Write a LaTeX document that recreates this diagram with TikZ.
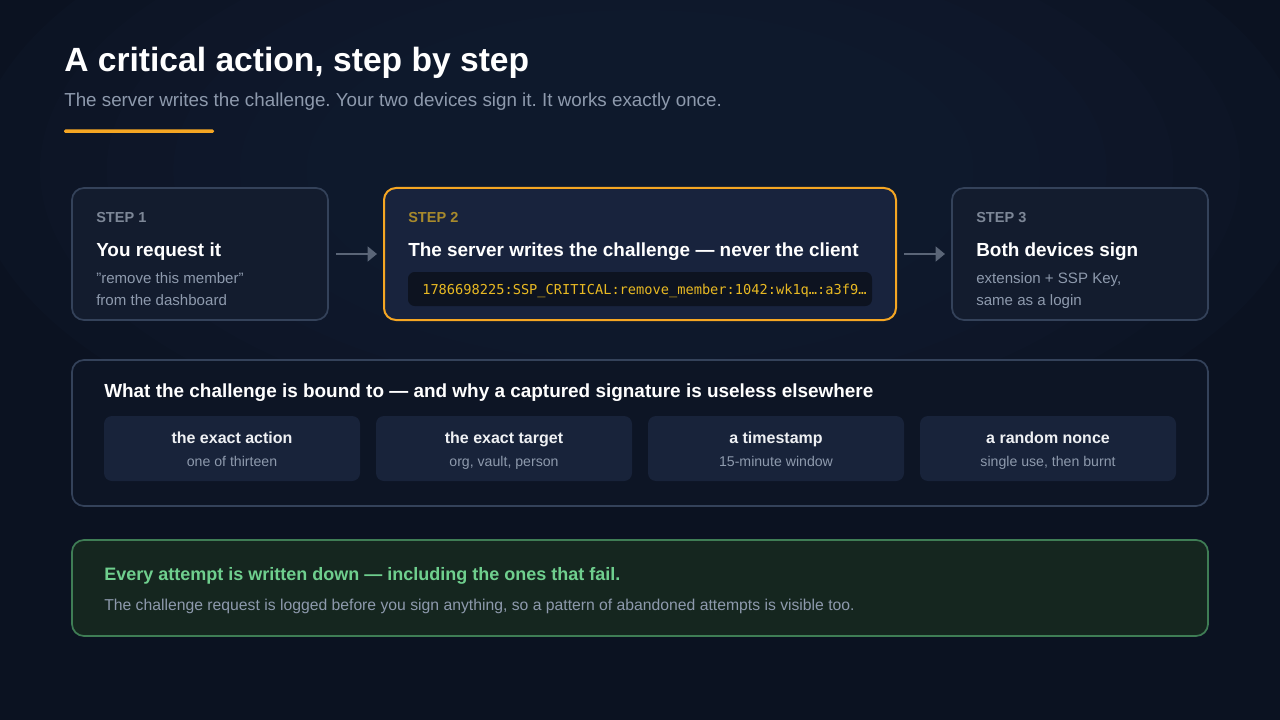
\documentclass[tikz,border=0pt]{standalone}
\usepackage{fontspec}
\setmainfont{Liberation Sans}
\newfontfamily\codefont{DejaVu Sans Mono}
\usetikzlibrary{arrows.meta}
\frenchspacing
\definecolor{bg}{HTML}{0B1221}
\definecolor{bgtop}{HTML}{16233A}
\definecolor{card}{HTML}{131C2E}
\definecolor{cardb}{HTML}{34425A}
\definecolor{card2}{HTML}{18233D}
\definecolor{amber}{HTML}{F5A623}
\definecolor{steplbl}{HTML}{7D8797}
\definecolor{steplbl2}{HTML}{A88A2C}
\definecolor{muted}{HTML}{8E9AAD}
\definecolor{codebg}{HTML}{0D1320}
\definecolor{codefg}{HTML}{E8B923}
\definecolor{chip}{HTML}{18233A}
\definecolor{gbg}{HTML}{15261F}
\definecolor{gbd}{HTML}{3F7D55}
\definecolor{gtx}{HTML}{6FCF8E}
\definecolor{arr}{HTML}{5A6577}
\begin{document}
\begin{tikzpicture}[x=0.75pt,y=-0.75pt,
  box/.style={rounded corners=9pt,line width=1.3pt},
  steplbl/.style={anchor=base west,font=\bfseries\fontsize{10.9}{12}\selectfont,text=steplbl,inner sep=0},
  steptitle/.style={anchor=base west,font=\bfseries\fontsize{14.2}{16}\selectfont,text=white,inner sep=0},
  stepbody/.style={anchor=base west,font=\fontsize{11.3}{13}\selectfont,text=muted,inner sep=0},
  chipbox/.style={rounded corners=6pt,fill=chip},
  chiptitle/.style={anchor=base,font=\bfseries\fontsize{12}{13}\selectfont,text=white!85!muted,inner sep=0},
  chipsub/.style={anchor=base,font=\fontsize{10.6}{12}\selectfont,text=muted,inner sep=0},
  flow/.style={draw=arr,line width=2.2pt,-{Triangle[length=7pt,width=11pt]}}]
\useasboundingbox (0,0) rectangle (1280,720);
\fill[bg] (0,0) rectangle (1280,720);
\begin{scope}
\clip (0,0) rectangle (1280,720);
\foreach \r in {1.0,0.9,0.8,0.7,0.6,0.5}{
  \fill[bgtop,opacity=0.12] (640,170) ellipse [x radius=\r*500pt,y radius=\r*240pt];
}
\end{scope}
% header
\node[anchor=base west,inner sep=0,font=\bfseries\fontsize{25.2}{28}\selectfont,text=white] (title) at (64,72) {A critical action, step by step};
\node[anchor=base west,inner sep=0,font=\fontsize{14.1}{15}\selectfont,text=muted] (sub) at (64,107) {The server writes the challenge. Your two devices sign it. It works exactly once.};
\fill[amber,rounded corners=1pt] (64,129.5) rectangle (214,133);
% step cards
\draw[box,fill=card,draw=cardb] (72,188) rectangle (328,320);
\draw[box,fill=card2,draw=amber,line width=1.5pt] (384,188) rectangle (896,320);
\draw[box,fill=card,draw=cardb] (952,188) rectangle (1208,320);
\coordinate (a1) at (336,254); \coordinate (a1e) at (377,254);
\coordinate (a2) at (904,254); \coordinate (a2e) at (945,254);
\draw[flow] (a1) -- (a1e);
\draw[flow] (a2) -- (a2e);

\node[steplbl] (l1) at (96,223) {STEP 1};
\node[steptitle] (t1) at (96,256) {You request it};
\node[stepbody] (b1a) at (96,283) {\symbol{34}remove this member\symbol{34}};
\node[stepbody] (b1b) at (96,305) {from the dashboard};

\node[steplbl,text=steplbl2] (l2) at (408,223) {STEP 2};
\node[steptitle] (t2) at (408,256) {The server writes the challenge — never the client};
\fill[codebg,rounded corners=5pt] (408,272) rectangle (872,306);
\node[anchor=base west,inner sep=0,font=\codefont\fontsize{10.25}{12}\selectfont,text=codefg] (code) at (422,294) {1786698225:SSP\_CRITICAL:remove\_member:1042:wk1q…:a3f9…};

\node[steplbl] (l3) at (976,223) {STEP 3};
\node[steptitle] (t3) at (976,256) {Both devices sign};
\node[stepbody] (b3a) at (976,283) {extension + SSP Key,};
\node[stepbody] (b3b) at (976,305) {same as a login};

% bound box
\draw[box,fill=bg!70!card,draw=cardb] (72,360) rectangle (1208,506);
\node[anchor=base west,inner sep=0,font=\bfseries\fontsize{14.2}{16}\selectfont,text=white] (bt) at (104,397) {What the challenge is bound to — and why a captured signature is useless elsewhere};
\foreach \x/\a/\b [count=\i] in {104/the exact action/one of thirteen,376/the exact target/{org, vault, person},648/a timestamp/15-minute window,920/a random nonce/{single use, then burnt}}{
  \fill[chipbox] (\x,416) rectangle (\x+256,481);
  \node[chiptitle] (c\i) at (\x+128,443) {\a};
  \node[chipsub] (d\i) at (\x+128,466) {\b};
}
% green box
\draw[box,fill=gbg,draw=gbd] (72,540) rectangle (1208,636);
\node[anchor=base west,inner sep=0,font=\bfseries\fontsize{13.5}{15}\selectfont,text=gtx] (gt) at (104,580) {Every attempt is written down — including the ones that fail.};
\node[anchor=base west,inner sep=0,font=\fontsize{11.8}{13}\selectfont,text=muted] (gb) at (104,610) {The challenge request is logged before you sign anything, so a pattern of abandoned attempts is visible too.};
\end{tikzpicture}
\end{document}
